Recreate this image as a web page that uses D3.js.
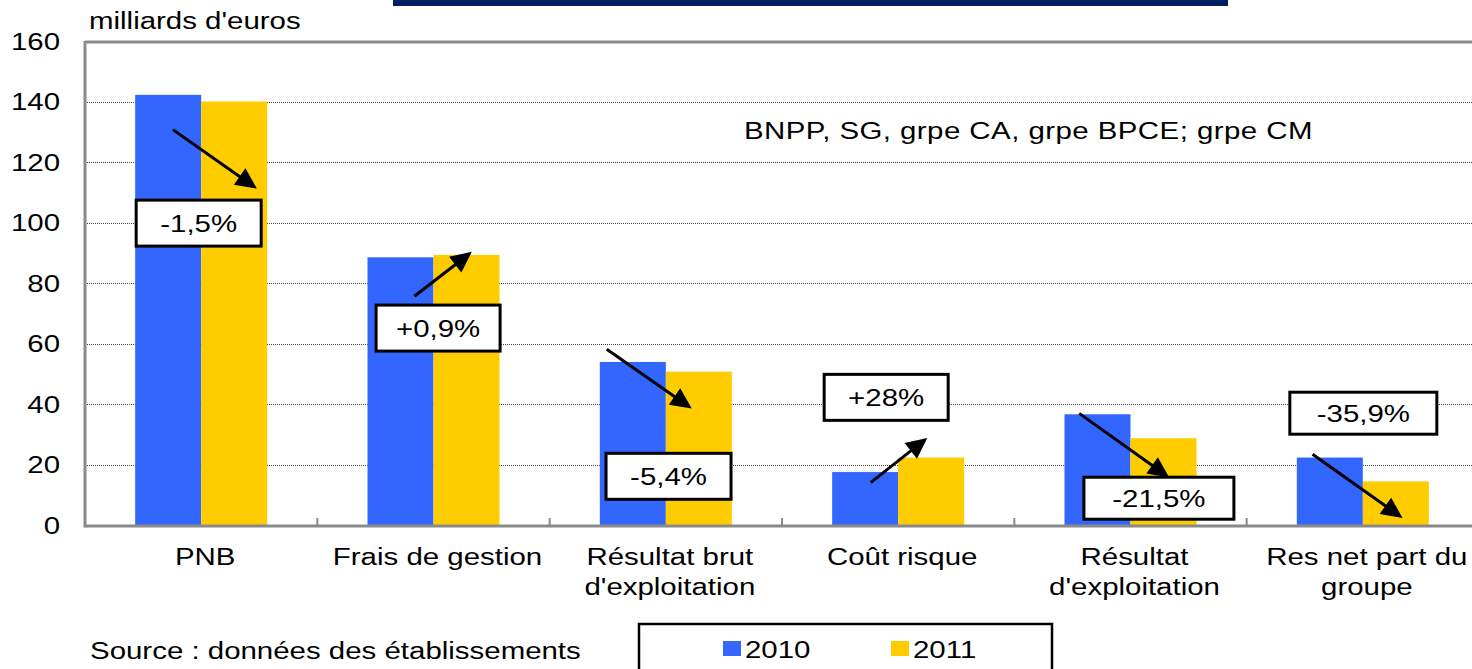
<!DOCTYPE html>
<html>
<head>
<meta charset="utf-8">
<script src="https://cdn.jsdelivr.net/npm/d3@7"></script>
<style>
  html, body { margin: 0; padding: 0; background: #fff; overflow: hidden; }
  svg { display: block; font-family: "Liberation Sans", Arial, sans-serif; }
</style>
</head>
<body>
<svg id="chart" width="1472" height="669"></svg>
<script>
// data (milliards d'euros)
const categories = ["PNB", "Frais de gestion", "Résultat brut d'exploitation", "Coût risque", "Résultat d'exploitation", "Res net part du groupe"];
const categoryLines = [["PNB"], ["Frais de gestion"], ["Résultat brut", "d'exploitation"], ["Coût risque"], ["Résultat", "d'exploitation"], ["Res net part du", "groupe"]];
const years = ["2010", "2011"];
const values2010 = [142.2, 88.5, 53.9, 17.5, 36.6, 22.3];
const values2011 = [140.0, 89.3, 50.7, 22.3, 28.7, 14.4];
const changeLabels = ["-1,5%", "+0,9%", "-5,4%", "+28%", "-21,5%", "-35,9%"];
const yTicks = [0, 20, 40, 60, 80, 100, 120, 140, 160];

// where the labels and arrows sit: dx in px from the category centre, y in data units
const boxLayout = [
  { dx: -2.5, top: 107.4, w: 125, h: 46 },
  { dx: 4.6, top: 72.7, w: 124, h: 46 },
  { dx: 2.7, top: 23.7, w: 125, h: 46 },
  { dx: -12, top: 49.8, w: 124, h: 46 },
  { dx: 28.4, top: 15.8, w: 150, h: 42 },
  { dx: 0.5, top: 43.9, w: 147, h: 42 }
];
const arrowLayout = [
  { dx1: -28.3, y1: 130.7, dx2: 55.7, y2: 111.2 },
  { dx1: -19.1, y1: 75.6, dx2: 38.3, y2: 90.3 },
  { dx1: -59.1, y1: 58.1, dx2: 25.9, y2: 38.5 },
  { dx1: -27.5, y1: 14.0, dx2: 29.1, y2: 28.8 },
  { dx1: -51.3, y1: 36.9, dx2: 38.7, y2: 15.7 },
  { dx1: -50.3, y1: 23.4, dx2: 39.7, y2: 2.3 }
];

const colors = { "2010": "#3366ff", "2011": "#ffcc00" };
const SX = 1.28; // text in the source is stretched sideways
const FS = 23;

const svg = d3.select("#chart");
const plotLeft = 85, plotRight = 1479, plotTop = 41, plotBottom = 525;

const x = d3.scaleBand().domain(categories).range([plotLeft, plotRight]);
const x1 = d3.scaleBand().domain(years).range([0, x.bandwidth()]).paddingOuter(0.76);
const y = d3.scaleLinear().domain([0, 160]).range([plotBottom, plotTop]);

const rows = categories.map((c, i) => ({ cat: c, "2010": values2010[i], "2011": values2011[i] }));

function addText(g, px, py, str, anchor) {
  return g.append("text")
    .attr("transform", `translate(${px},${py}) scale(${SX},1)`)
    .attr("text-anchor", anchor || "start")
    .attr("font-size", FS)
    .attr("fill", "#000")
    .text(str);
}

// title bar cut off at the top
svg.append("rect").attr("x", 393).attr("y", 0).attr("width", 835).attr("height", 6).attr("fill", "#001f5f");

// gridlines
svg.append("g").selectAll("line")
  .data(yTicks.filter(d => d > 0 && d < 160))
  .join("line")
  .attr("x1", plotLeft).attr("x2", 1472)
  .attr("y1", d => Math.round(y(d)) + 0.5).attr("y2", d => Math.round(y(d)) + 0.5)
  .attr("stroke", "#444").attr("stroke-width", 1).attr("stroke-dasharray", "1,1");

// bars
svg.append("g").selectAll("g")
  .data(rows)
  .join("g")
  .attr("transform", d => `translate(${x(d.cat)},0)`)
  .selectAll("rect")
  .data(d => years.map(k => ({ key: k, value: d[k] })))
  .join("rect")
  .attr("x", d => x1(d.key))
  .attr("width", x1.bandwidth())
  .attr("y", d => y(d.value))
  .attr("height", d => y(0) - y(d.value))
  .attr("fill", d => colors[d.key]);

// frame
const frame = svg.append("g").attr("stroke", "#8a8a8a").attr("stroke-width", 3);
frame.append("line").attr("x1", plotLeft).attr("x2", 1472).attr("y1", plotTop + 1).attr("y2", plotTop + 1);
frame.append("line").attr("x1", plotLeft).attr("x2", plotLeft).attr("y1", plotTop).attr("y2", plotBottom + 2.5);
frame.append("line").attr("x1", plotLeft).attr("x2", 1472).attr("y1", plotBottom + 1).attr("y2", plotBottom + 1);

// category boundary ticks
svg.append("g").selectAll("line")
  .data(categories.slice(1))
  .join("line")
  .attr("x1", d => x(d)).attr("x2", d => x(d))
  .attr("y1", plotBottom - 7).attr("y2", plotBottom)
  .attr("stroke", "#8a8a8a").attr("stroke-width", 2);

// y axis labels
const yAxis = svg.append("g")
  .attr("transform", `translate(${plotLeft},0)`)
  .call(d3.axisLeft(y).tickValues(yTicks).tickSize(0).tickFormat(d3.format("d")));
yAxis.select(".domain").remove();
yAxis.attr("font-family", null).attr("font-size", null);
yAxis.selectAll("text")
  .attr("x", 0)
  .attr("dy", "0.36em")
  .attr("font-size", FS)
  .attr("fill", "#000")
  .attr("transform", `translate(-25,0) scale(${SX},1)`);

// category labels
const catG = svg.append("g");
categoryLines.forEach((lines, i) => {
  const cx = x(categories[i]) + x.bandwidth() / 2 + 4;
  lines.forEach((ln, j) => addText(catG, cx, 565 + j * 30, ln, "middle"));
});

// change annotations
const ann = svg.append("g");
arrowLayout.forEach((a, i) => {
  const cx = x(categories[i]) + x.bandwidth() / 2;
  const p1 = [cx + a.dx1, y(a.y1)], p2 = [cx + a.dx2, y(a.y2)];
  const len = Math.hypot(p2[0] - p1[0], p2[1] - p1[1]);
  const ux = (p2[0] - p1[0]) / len, uy = (p2[1] - p1[1]) / len;
  const hl = 21, hw = 10;
  const base = [p2[0] - ux * hl, p2[1] - uy * hl];
  ann.append("line")
    .attr("x1", p1[0]).attr("y1", p1[1]).attr("x2", base[0] + ux * 2).attr("y2", base[1] + uy * 2)
    .attr("stroke", "#000").attr("stroke-width", 3);
  ann.append("path")
    .attr("d", `M${p2[0]},${p2[1]}L${base[0] - uy * hw},${base[1] + ux * hw}L${base[0] + uy * hw},${base[1] - ux * hw}Z`)
    .attr("fill", "#000");
});
boxLayout.forEach((b, i) => {
  const cx = x(categories[i]) + x.bandwidth() / 2 + b.dx;
  const ty = y(b.top);
  ann.append("rect")
    .attr("x", cx - b.w / 2).attr("y", ty)
    .attr("width", b.w).attr("height", b.h)
    .attr("fill", "#fff").attr("stroke", "#000").attr("stroke-width", 3);
  addText(ann, cx, ty + b.h / 2 + 8.5, changeLabels[i], "middle");
});

// texts
addText(svg, 89, 29, "milliards d'euros");
addText(svg, 744, 139, "BNPP,  SG, grpe CA, grpe BPCE; grpe CM").attr("letter-spacing", 0.35);
addText(svg, 90, 659, "Source : données des établissements");

// legend
const legend = svg.append("g");
legend.append("rect").attr("x", 639).attr("y", 624).attr("width", 413).attr("height", 60)
  .attr("fill", "#fff").attr("stroke", "#000").attr("stroke-width", 2.5);
const legendX = [723, 891];
years.forEach((k, i) => {
  legend.append("rect").attr("x", legendX[i]).attr("y", 641).attr("width", 18).attr("height", 15).attr("fill", colors[k]);
  addText(legend, legendX[i] + 22, 658, k);
});
</script>
</body>
</html>
